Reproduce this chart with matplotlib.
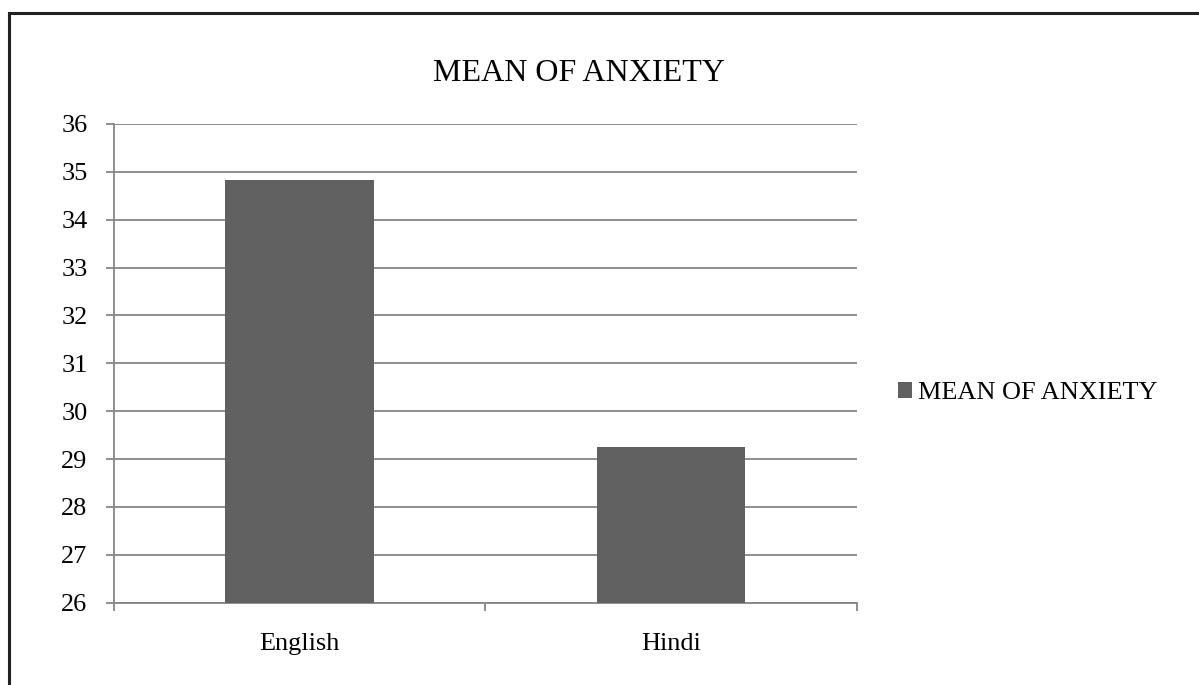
import matplotlib
matplotlib.use('Agg')
import matplotlib.pyplot as plt
from matplotlib.lines import Line2D

# --- DATA ---
categories = ['English', 'Hindi']
mean_values = [34.83, 29.25]
series_name = 'MEAN OF ANXIETY'
y_ticks = list(range(26, 37))

# --- STYLE ---
BAR_COLOR = '#606060'
GRID_COLOR = '#868686'
plt.rcParams['font.family'] = ['Liberation Serif', 'DejaVu Serif']

fig = plt.figure(figsize=(11.99, 6.85), dpi=100)
ax = fig.add_axes([0.0947, 0.1201, 0.6198, 0.6989])

x = list(range(len(categories)))
ax.bar(x, mean_values, width=0.4, color=BAR_COLOR, label=series_name, zorder=3)

ax.set_xlim(-0.5, len(categories) - 0.5)
ax.set_ylim(26, 36)
ax.set_yticks(y_ticks)
ax.set_xticks(x)
ax.set_xticklabels(categories)
ax.set_xticks([-0.5, 0.5, 1.5], minor=True)

ax.yaxis.grid(True, color=GRID_COLOR, linewidth=1.3, zorder=0)
ax.set_axisbelow(True)

for side in ['top', 'right']:
    ax.spines[side].set_visible(False)
for side in ['left', 'bottom']:
    ax.spines[side].set_color(GRID_COLOR)
    ax.spines[side].set_linewidth(1.3)

ax.tick_params(axis='y', direction='out', length=5.7, width=1.3, color=GRID_COLOR,
               labelsize=18.9, pad=13)
ax.tick_params(axis='x', which='major', length=0, labelsize=18.9, pad=22)
ax.tick_params(axis='x', which='minor', direction='out', length=6, width=1.3,
               color=GRID_COLOR)

# title placed over the whole chart area
fig.text(0.483, 0.892, series_name, ha='center', va='center', fontsize=23)

# legend on the right
ax.legend(loc='center left', bbox_to_anchor=(0.749, 0.426), bbox_transform=fig.transFigure,
          frameon=False, fontsize=18.9, handlelength=0.52, handleheight=0.52,
          handletextpad=0.25, borderaxespad=0, borderpad=0)

# chart frame (top and left edges visible in the picture)
fig.add_artist(Line2D([9 / 1199, 1.0], [1 - 13 / 685, 1 - 13 / 685], color='#222222',
                      linewidth=2.2, transform=fig.transFigure))
fig.add_artist(Line2D([9 / 1199, 9 / 1199], [0.0, 1 - 13 / 685], color='#222222',
                      linewidth=2.2, transform=fig.transFigure))

fig.savefig('out.png', dpi=100)
